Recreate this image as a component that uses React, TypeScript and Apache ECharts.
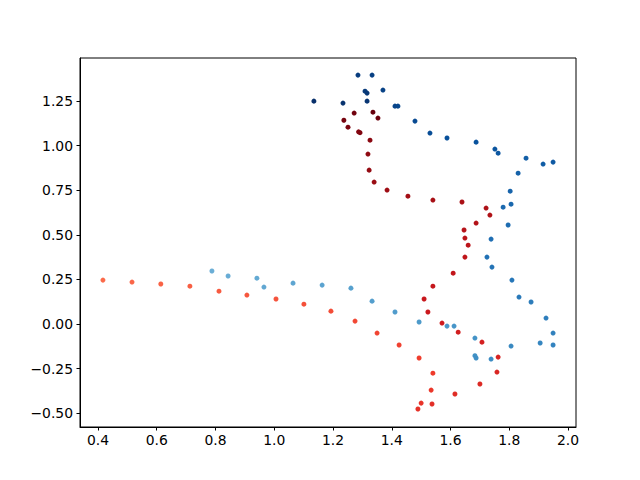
import React, { useEffect, useRef } from "react";
import * as echarts from "echarts";

const blueX = [0.788, 0.843, 0.941, 0.965, 1.064, 1.163, 1.261, 1.333, 1.411, 1.493, 1.588, 1.612, 1.683, 1.683, 1.687, 1.738, 1.806, 1.905, 1.949, 1.949, 1.925, 1.874, 1.833, 1.809, 1.741, 1.724, 1.738, 1.796, 1.779, 1.806, 1.803, 1.830, 1.857, 1.915, 1.949, 1.762, 1.751, 1.687, 1.588, 1.530, 1.479, 1.421, 1.411, 1.370, 1.333, 1.285, 1.309, 1.316, 1.316, 1.234, 1.135];
const blueY = [0.297, 0.269, 0.257, 0.207, 0.229, 0.218, 0.201, 0.128, 0.067, 0.011, -0.012, -0.012, -0.079, -0.178, -0.191, -0.197, -0.124, -0.107, -0.118, -0.051, 0.033, 0.123, 0.151, 0.246, 0.319, 0.375, 0.476, 0.555, 0.655, 0.672, 0.745, 0.846, 0.930, 0.897, 0.908, 0.958, 0.981, 1.020, 1.043, 1.071, 1.138, 1.222, 1.222, 1.312, 1.396, 1.396, 1.306, 1.295, 1.250, 1.239, 1.250];

const redX = [0.417, 0.516, 0.614, 0.713, 0.812, 0.907, 1.006, 1.101, 1.193, 1.275, 1.350, 1.425, 1.493, 1.540, 1.534, 1.500, 1.489, 1.537, 1.615, 1.700, 1.758, 1.762, 1.707, 1.626, 1.571, 1.523, 1.510, 1.540, 1.609, 1.649, 1.660, 1.649, 1.646, 1.687, 1.734, 1.721, 1.639, 1.540, 1.455, 1.384, 1.340, 1.323, 1.319, 1.326, 1.287, 1.292, 1.251, 1.237, 1.272, 1.353, 1.336];
const redY = [0.246, 0.235, 0.224, 0.212, 0.184, 0.162, 0.140, 0.111, 0.072, 0.016, -0.051, -0.118, -0.191, -0.276, -0.371, -0.444, -0.477, -0.449, -0.393, -0.337, -0.270, -0.186, -0.102, -0.046, 0.005, 0.067, 0.140, 0.212, 0.285, 0.375, 0.442, 0.482, 0.527, 0.566, 0.611, 0.650, 0.684, 0.695, 0.717, 0.751, 0.796, 0.863, 0.953, 1.031, 1.078, 1.073, 1.104, 1.143, 1.183, 1.155, 1.188];

const xTicks = [0.4, 0.6, 0.8, 1.0, 1.2, 1.4, 1.6, 1.8, 2.0];
const yTicks = [-0.5, -0.25, 0, 0.25, 0.5, 0.75, 1.0, 1.25];

const BLUES = ["#f7fbff", "#deebf7", "#c6dbef", "#9ecae1", "#6baed6", "#4292c6", "#2171b5", "#08519c", "#08306b"];
const REDS = ["#fff5f0", "#fee0d2", "#fcbba1", "#fc9272", "#fb6a4a", "#ef3b2c", "#cb181d", "#a50f15", "#67000d"];

function hex(c: string) {
  return [parseInt(c.slice(1, 3), 16), parseInt(c.slice(3, 5), 16), parseInt(c.slice(5, 7), 16)];
}
function cmap(stops: string[], t: number) {
  const p = Math.max(0, Math.min(1, t)) * (stops.length - 1);
  const i = Math.min(stops.length - 2, Math.floor(p));
  const f = p - i;
  const a = hex(stops[i]);
  const b = hex(stops[i + 1]);
  const r = a.map((v, k) => Math.round(v + (b[k] - v) * f));
  return `rgb(${r[0]},${r[1]},${r[2]})`;
}

function build(xs: number[], ys: number[], stops: string[]) {
  const n = xs.length;
  return xs.map((x, i) => ({
    value: [x, ys[i]],
    itemStyle: { color: cmap(stops, 0.5 + 0.5 * (i / (n - 1))), opacity: 1 },
  }));
}

const fmtY = (v: number) => v.toFixed(2).replace("-", "\u2212");
const fmtX = (v: number) => v.toFixed(1).replace("-", "\u2212");

export default function App() {
  const ref = useRef<HTMLDivElement>(null);
  useEffect(() => {
    if (!ref.current) return;
    const chart = echarts.init(ref.current, null, { renderer: "svg" });
    const labelStyle = { color: "#000", fontSize: 13.9, fontFamily: "DejaVu Sans" };
    chart.setOption({
      animation: false,
      backgroundColor: "#fff",
      grid: { left: 80, right: 64, top: 58, bottom: 53, show: true, borderColor: "#000", borderWidth: 1, backgroundColor: "transparent" },
      xAxis: {
        type: "value",
        min: 0.339,
        max: 2.027,
        splitLine: { show: false },
        axisLine: { show: true, onZero: false, lineStyle: { color: "#000", width: 1 } },
        axisTick: { show: true, length: 3.5, inside: false, customValues: xTicks, lineStyle: { color: "#000" } },
        axisLabel: { ...labelStyle, margin: 6, customValues: xTicks, formatter: fmtX },
      },
      yAxis: {
        type: "value",
        min: -0.578,
        max: 1.492,
        splitLine: { show: false },
        axisLine: { show: true, onZero: false, lineStyle: { color: "#000", width: 1 } },
        axisTick: { show: true, length: 3.5, inside: false, customValues: yTicks, lineStyle: { color: "#000" } },
        axisLabel: { ...labelStyle, margin: 7, customValues: yTicks, formatter: fmtY },
      },
      series: [
        { type: "scatter", symbolSize: 5, itemStyle: { opacity: 1 }, data: build(blueX, blueY, BLUES) },
        { type: "scatter", symbolSize: 5, itemStyle: { opacity: 1 }, data: build(redX, redY, REDS) },
      ],
    });
    return () => chart.dispose();
  }, []);
  return <div ref={ref} style={{ width: 640, height: 480, position: "absolute", left: 0, top: 0 }} />;
}
